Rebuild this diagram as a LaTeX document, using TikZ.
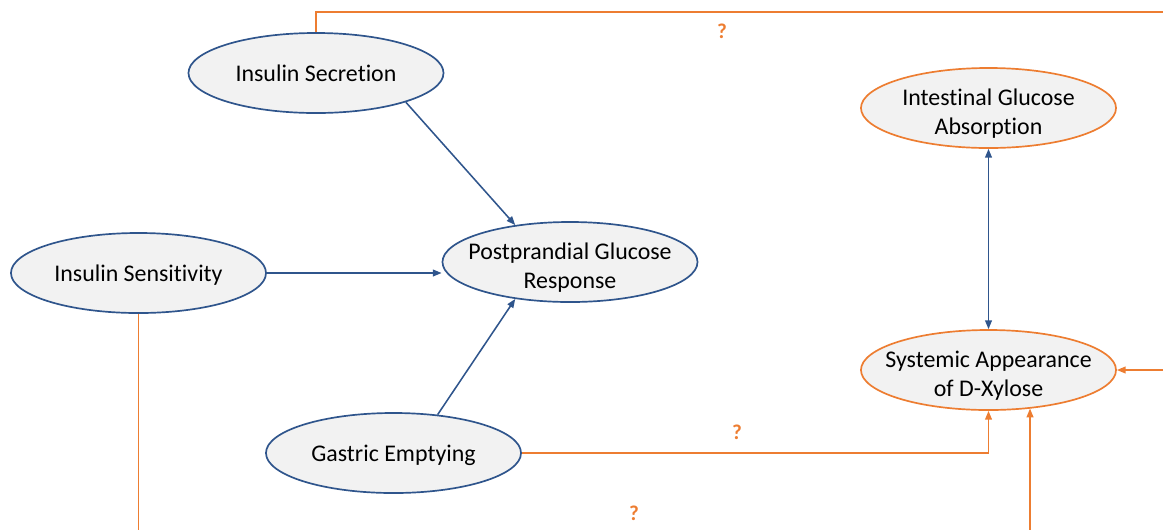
\documentclass[tikz,border=0pt]{standalone}
\usepackage{fontspec}
\setmainfont{Carlito}[Ligatures=NoCommon]
\usepackage{tikz}
\usetikzlibrary{shapes.geometric, positioning, arrows.meta}

\definecolor{pathblue}{RGB}{47,85,140}
\definecolor{pathorange}{RGB}{237,125,49}
\definecolor{ellfill}{RGB}{242,242,242}

\begin{document}
\begin{tikzpicture}[x=0.025cm, y=-0.025cm, >={Triangle[length=2.2mm,width=1.7mm]},
          line width=1.1pt,
          factor/.style={draw=pathblue, fill=ellfill, ellipse, line width=1.2pt,
                         minimum width=6.375cm, minimum height=2cm,
                         inner xsep=-1cm, inner ysep=0pt,
                         align=center, font=\fontsize{17}{20.6}\selectfont,
                         text height=11.5pt, text depth=0pt},
          twoline/.style={text height=37.5pt, text depth=0pt},
          marker/.style={factor, draw=pathorange},
          infl/.style={->, draw=pathblue},
          unknown/.style={->, draw=pathorange},
          qmark/.style={text=pathorange, font=\fontsize{15}{18}\selectfont\bfseries}
        ]
        \useasboundingbox (0,0) rectangle (1163,529);
        \clip (0,0) rectangle (1163,529);

        \node[factor] (insec)  at (316,73) {Insulin Secretion};
        \node[factor] (insens) at (138.5,273) {Insulin Sensitivity};
        \node[factor, twoline] (ppgr) at (570,262) {Postprandial Glucose\\Response};
        \node[factor] (gastr)  at (393.5,453) {Gastric Emptying};
        \node[marker, twoline] (intabs) at (988.5,108) {Intestinal Glucose\\Absorption};
        \node[marker, twoline] (sysxyl) at (988.5,370) {Systemic Appearance\\of D-Xylose};

        \coordinate (topleft)  at (316,12);
        \coordinate (topright) at (1180,12);
        \coordinate (botleft)  at (138.5,545);
        \coordinate (botright) at (1030,545);

        % blue: known effects on the glucose response
        \draw[infl] (insec.-18) -- (ppgr.146);
        \draw[infl] (insens.east) -- (insens.east -| ppgr.west);
        \draw[infl] (gastr.41) -- (ppgr.214);
        \draw[infl, <->] (intabs.south) -- (sysxyl.north);

        % orange: unknown links to D-xylose
        \draw[unknown] (insec.north) -- (topleft) -- (topright) |- (sysxyl.east);
        \draw[unknown] (gastr.east) -| (sysxyl.south);
        \draw[unknown] (insens.south) -- (botleft) -- (botright) -- (botright |- sysxyl.-42);

        \node[qmark] (q1) at (722,31)  {?};
        \node[qmark] (q2) at (737,432) {?};
        \node[qmark] (q3) at (634,513) {?};
      \end{tikzpicture}
\end{document}
